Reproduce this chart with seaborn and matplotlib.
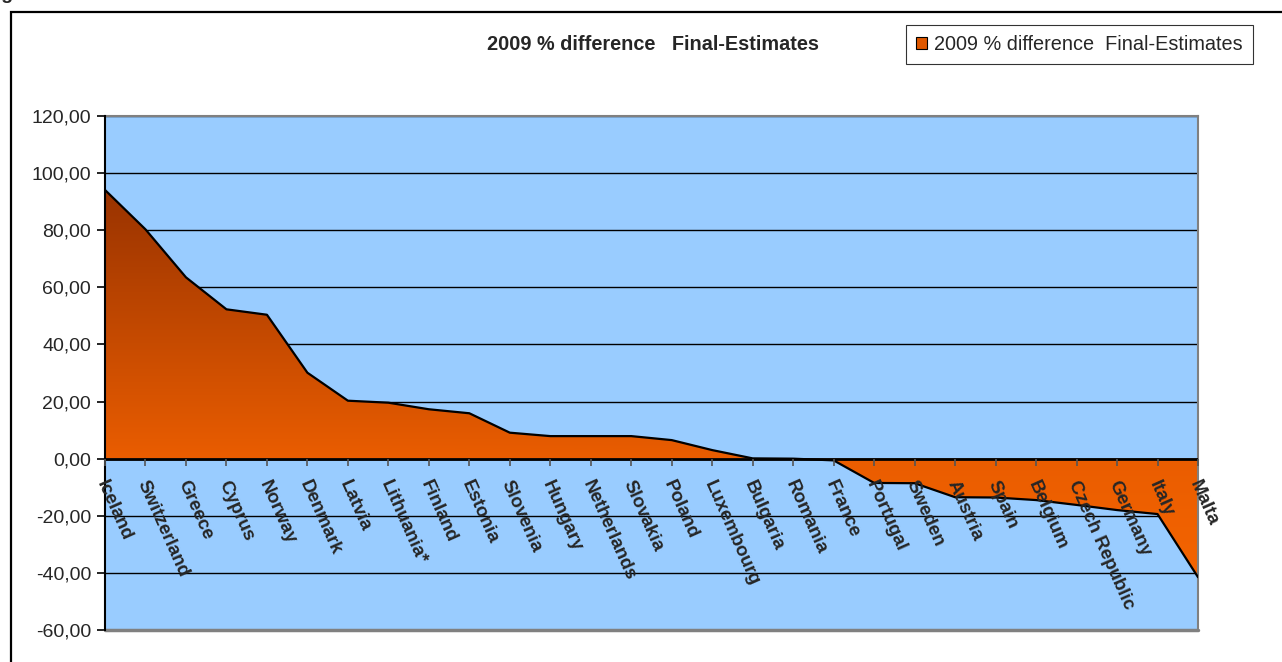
import numpy as np
import pandas as pd
import matplotlib
matplotlib.use("Agg")
import matplotlib.pyplot as plt
import seaborn as sns
from matplotlib.colors import LinearSegmentedColormap
from matplotlib.patches import PathPatch, Patch, Rectangle
from matplotlib.path import Path
from matplotlib.transforms import ScaledTranslation

# --- data -------------------------------------------------------------
countries = ["Iceland", "Switzerland", "Greece", "Cyprus", "Norway", "Denmark",
             "Latvia", "Lithuania*", "Finland", "Estonia", "Slovenia", "Hungary",
             "Netherlands", "Slovakia", "Poland", "Luxembourg", "Bulgaria",
             "Romania", "France", "Portugal", "Sweden", "Austria", "Spain",
             "Belgium", "Czech Republic", "Germany", "Italy", "Malta"]
diff_2009 = [94.1, 80.3, 63.5, 52.3, 50.4, 30.1, 20.3, 19.6, 17.3, 15.9, 9.1,
             7.9, 7.9, 7.9, 6.5, 3.0, 0.1, 0.0, -0.6, -8.5, -8.6, -13.5, -13.6,
             -14.5, -16.2, -18.0, -19.4, -41.5]
yticks = [-60, -40, -20, 0, 20, 40, 60, 80, 100, 120]
series_name = "2009 % difference  Final-Estimates"
title_text = "2009 % difference   Final-Estimates"

df = pd.DataFrame({"pos": np.arange(len(countries)), "value": diff_2009})

# --- style ------------------------------------------------------------
sns.set_style("white")
plt.rcParams["font.family"] = ["Liberation Sans", "DejaVu Sans"]

W, H = 1282, 662
fig = plt.figure(figsize=(W / 100, H / 100), dpi=100)
fig.patch.set_facecolor("white")

x0, x1, y0, y1 = 105, 1198, 116, 630
ax = fig.add_axes([x0 / W, 1 - y1 / H, (x1 - x0) / W, (y1 - y0) / H])
ax.set_facecolor("#99CCFF")

# gridlines
for yv in yticks:
    ax.axhline(yv, color="black", lw=1.0, zorder=0.5)

# filled area with vertical gradient, clipped to the series polygon
xs = df["pos"].to_numpy(dtype=float)
ys = df["value"].to_numpy(dtype=float)
verts = np.vstack([np.column_stack([xs, ys]),
                   [[xs[-1], 0.0], [xs[0], 0.0], [xs[0], ys[0]]]])
codes = [Path.MOVETO] + [Path.LINETO] * (len(verts) - 2) + [Path.CLOSEPOLY]
area_path = Path(verts, codes)
clip = PathPatch(area_path, transform=ax.transData, facecolor="none", edgecolor="none")
ax.add_patch(clip)

ymin_g, ymax_g = -42.0, 94.5
cmap = LinearSegmentedColormap.from_list(
    "area", [(0.0, "#F46400"), ((0 - ymin_g) / (ymax_g - ymin_g), "#EA5D00"),
             (1.0, "#993300")])
grad = np.linspace(0, 1, 400).reshape(-1, 1)
im = ax.imshow(grad, extent=[xs[0], xs[-1], ymin_g, ymax_g], origin="lower",
               aspect="auto", cmap=cmap, interpolation="bilinear", zorder=2)
im.set_clip_path(clip)

# outline of the series
sns.lineplot(data=df, x="pos", y="value", color="black", lw=1.6, ax=ax,
             zorder=3, legend=False)

# zero axis line
ax.axhline(0, color="black", lw=2.0, zorder=4)

ax.set_xlim(xs[0], xs[-1])
ax.set_ylim(-60, 120)
ax.set_xlabel("")
ax.set_ylabel("")

# y axis
ax.set_yticks(yticks)
ax.set_yticklabels([f"{v:.2f}".replace(".", ",") for v in yticks], fontsize=14)
ax.tick_params(axis="y", direction="out", length=6, width=1.2, color="black",
               pad=4, left=True)

# category axis sits at zero, labels drawn above the filled area
ax.spines["bottom"].set_position(("data", 0))
ax.spines["bottom"].set_visible(False)
ax.set_xticks(xs)
ax.set_xticklabels(countries, rotation=-66, ha="left", va="top",
                   rotation_mode="anchor", fontsize=13.5, fontweight="bold")
ax.tick_params(axis="x", direction="out", length=5, width=1.2, color="#555555",
               pad=9, bottom=True)
ax.xaxis.set_zorder(5)
shift = ScaledTranslation(4 / 100, 0, fig.dpi_scale_trans)
for lab in ax.get_xticklabels():
    lab.set_transform(lab.get_transform() + shift)

ax.spines["left"].set_color("black")
ax.spines["left"].set_linewidth(1.5)
ax.spines["left"].set_zorder(5)
for s in ("top", "right"):
    ax.spines[s].set_color("#808080")
    ax.spines[s].set_linewidth(1.5)
ax.axhline(-60, color="#808080", lw=2.5, zorder=4, clip_on=False)

# title
fig.text(653 / W, 1 - 45 / H, title_text, ha="center", va="center",
         fontsize=14.3, fontweight="bold")

# legend
handle = Patch(facecolor="#E05800", edgecolor="black", linewidth=0.8)
leg = fig.legend([handle], [series_name], loc="upper right",
                 bbox_to_anchor=(1253 / W, 1 - 25 / H), fontsize=14.3,
                 frameon=True, fancybox=False, handlelength=0.6,
                 handleheight=0.6, handletextpad=0.35, borderpad=0.5,
                 borderaxespad=0)
leg.get_frame().set_edgecolor("black")
leg.get_frame().set_linewidth(0.8)

# outer chart frame
fig.add_artist(Rectangle((11 / W, -0.05), 1.1, 1 - 12 / H + 0.05,
                         transform=fig.transFigure, fill=False,
                         edgecolor="black", lw=1.6))

# heading text running off the top edge
fig.text(-15 / W, 1 + 1 / H, "Figure", ha="left", va="baseline",
         fontsize=14, fontweight="bold")

fig.savefig("out.png", dpi=100)
